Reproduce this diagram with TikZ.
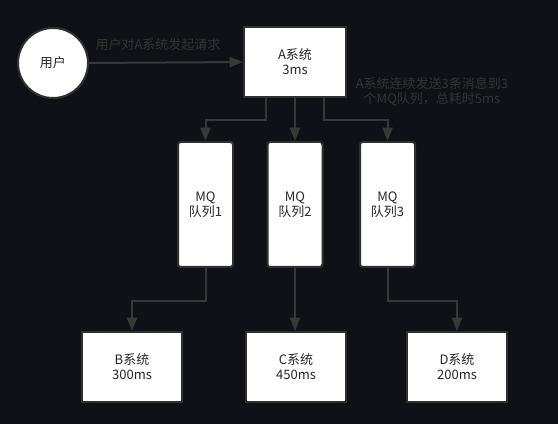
\documentclass[tikz,border=0pt]{standalone}
\usepackage{fontspec}
\setmainfont{Noto Sans CJK SC}
\usetikzlibrary{arrows.meta,calc}
\definecolor{bg}{HTML}{0F1117}
\definecolor{edge}{HTML}{383838}
\definecolor{lbl}{HTML}{333333}
\definecolor{border}{HTML}{303030}
\begin{document}
\begin{tikzpicture}[x=0.75pt,y=-0.75pt,
  every node/.style={font=\fontsize{9.75pt}{11.25pt}\selectfont, text=black!85},
  sysbox/.style={draw=border, line width=1.5pt, fill=white, minimum width=100*0.75pt, minimum height=70*0.75pt, align=center, inner sep=0pt},
  mqbox/.style={draw=border, line width=1.5pt, fill=white, rounded corners=2pt, minimum width=55*0.75pt, minimum height=125*0.75pt, align=center, inner sep=0pt},
  userc/.style={draw=border, line width=1.5pt, fill=white, circle, minimum size=70*0.75pt, inner sep=0pt},
  arr/.style={draw=edge, line width=1.5pt, -{Triangle[length=10pt,width=7.5pt]}},
  note/.style={text=lbl, align=center, inner sep=0pt}]
\fill[bg] (0,0) rectangle (558,424);
\useasboundingbox (0,0) rectangle (558,424);
\node[userc] (user) at (53,63) {用户};
\node[sysbox, minimum width=102*0.75pt] (A) at (295,62) {A系统\\3ms};
\node[mqbox] (q1) at (205.5,204.5) {MQ\\队列1};
\node[mqbox] (q2) at (295,204.5) {MQ\\队列2};
\node[mqbox] (q3) at (387.5,204.5) {MQ\\队列3};
\node[sysbox] (B) at (132,367) {B系统\\300ms};
\node[sysbox] (C) at (296,367) {C系统\\450ms};
\node[sysbox] (D) at (457,367) {D系统\\200ms};
\draw[arr] (user.east) -- (A.west);
\node[note] (l1) at (158,45) {用户对A系统发起请求};
\node[note] (l2) at (432,92) {A系统连续发送3条消息到3\\个MQ队列，总耗时5ms};
\draw[arr] ($(A.south)+(-29,0)$) -- ++(0,22) -| (q1.north);
\draw[arr] (A.south) -- (q2.north);
\draw[arr] ($(A.south)+(29,0)$) -- ++(0,22) -| (q3.north);
\draw[arr] (q1.south) -- ++(0,33) -| (B.north);
\draw[arr] (q2.south) -- (q2.south |- C.north);
\draw[arr] (q3.south) -- ++(0,33) -| (D.north);
\end{tikzpicture}
\end{document}
